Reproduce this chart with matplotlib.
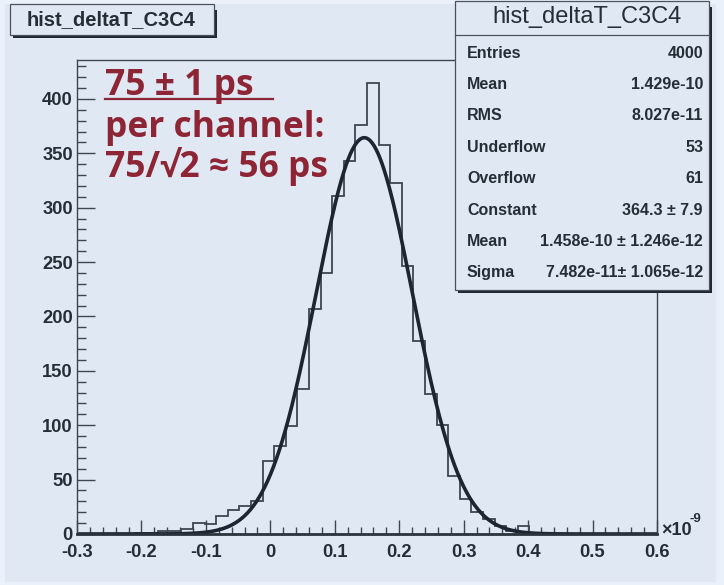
import numpy as np
import matplotlib
matplotlib.use("Agg")
import matplotlib.pyplot as plt
from matplotlib.patches import Rectangle
from matplotlib.lines import Line2D

# Histogram definition (time difference, units of 1e-9 s)
x_min, x_max, n_bins = -0.3, 0.6, 50
counts = [0, 0, 0, 0, 0, 1, 1, 3, 3, 5,
          10, 9, 17, 22, 26, 30, 67, 81, 99, 133,
          207, 240, 311, 343, 376, 415, 358, 323, 246, 177,
          129, 100, 53, 32, 20, 14, 7, 3, 7, 1,
          0, 0, 0, 0, 0, 0, 0, 0, 0, 0]

# Gaussian fit result
fit_constant = 364.3
fit_mean = 0.1458
fit_sigma = 0.07482

hist_name = "hist_deltaT_C3C4"
stat_labels = ["Entries", "Mean", "RMS", "Underflow", "Overflow",
               "Constant", "Mean", "Sigma"]
stat_values = ["4000", "1.429e-10", "8.027e-11", "53", "61",
               "364.3 \u00b1 7.9", "1.458e-10 \u00b1 1.246e-12",
               "7.482e-11\u00b1 1.065e-12"]
note_lines = ["75 \u00b1 1 ps ", "per channel:", "75/\u221a2 \u2248 56 ps"]

x_ticks = [-0.3, -0.2, -0.1, 0, 0.1, 0.2, 0.3, 0.4, 0.5, 0.6]
x_tick_labels = ["-0.3", "-0.2", "-0.1", "0", "0.1", "0.2", "0.3", "0.4", "0.5", "0.6"]
y_ticks = [0, 50, 100, 150, 200, 250, 300, 350, 400]

W, H = 724, 585
BG = "#dfe8f3"
OUTER = "#eaf1fa"
INK = "#252d36"
RED = "#8d2535"
LABEL_FONT = "Liberation Sans"

fig = plt.figure(figsize=(W / 100, H / 100), dpi=100, facecolor=OUTER)


def fx(px):
    return px / W


def fy(py):
    return 1 - py / H


# canvas panel
fig.patches.append(Rectangle((fx(5), fy(582)), fx(716) - fx(5), fy(4) - fy(582),
                             transform=fig.transFigure, facecolor=BG,
                             edgecolor="none", zorder=-5))

ax_l, ax_r, ax_t, ax_b = 77, 657, 60, 534
ax = fig.add_axes([fx(ax_l), fy(ax_b), fx(ax_r) - fx(ax_l), fy(ax_t) - fy(ax_b)])
ax.set_zorder(1)
ax.set_facecolor(BG)

edges = np.linspace(x_min, x_max, n_bins + 1)
ax.stairs(counts, edges, color="#3d4651", linewidth=1.3, baseline=None)

xf = np.linspace(x_min, x_max, 600)
yf = fit_constant * np.exp(-0.5 * ((xf - fit_mean) / fit_sigma) ** 2)
ax.plot(xf, yf, color="#1b2632", linewidth=2.6, solid_capstyle="round")

ax.set_xlim(x_min, x_max)
ax.set_ylim(0, 1.05 * max(counts))

ax.set_xticks(x_ticks)
ax.set_xticklabels(x_tick_labels)
ax.set_xticks(np.arange(x_min, x_max + 1e-9, 0.02), minor=True)
ax.set_yticks(y_ticks)
ax.set_yticks(np.arange(0, 440, 10), minor=True)

ax.tick_params(axis="x", which="major", direction="in", length=10, width=1.0,
               color="#3d4651", pad=7.5, labelsize=13.2, labelcolor=INK)
ax.tick_params(axis="x", which="minor", direction="in", length=5, width=1.0,
               color="#3d4651")
ax.tick_params(axis="y", which="major", direction="in", length=13, width=1.0,
               color="#3d4651", pad=3, labelsize=13.2, labelcolor=INK)
ax.tick_params(axis="y", which="minor", direction="in", length=6.5, width=1.0,
               color="#3d4651")
ax.tick_params(top=False, right=False, which="both")
for lab in ax.get_xticklabels() + ax.get_yticklabels():
    lab.set_fontfamily(LABEL_FONT)
    lab.set_fontweight("bold")

for side in ["top", "right", "left"]:
    ax.spines[side].set_color("#3d4651")
    ax.spines[side].set_linewidth(1.0)
ax.spines["bottom"].set_color("#2a323c")
ax.spines["bottom"].set_linewidth(2.0)

# x10^-9 exponent label
fig.text(fx(661), fy(535), "\u00d710", fontsize=13, fontweight="bold",
         family=LABEL_FONT, color=INK, ha="left", va="baseline", zorder=20)
fig.text(fx(689), fy(522), "-9", fontsize=9.5, fontweight="bold",
         family=LABEL_FONT, color=INK, ha="left", va="baseline", zorder=20)


def shadow_box(x0, y0, x1, y1, z=5):
    # box with a dark drop shadow along bottom and right edges
    fig.patches.append(Rectangle((fx(x0 + 3), fy(y1 + 3)), fx(x1) - fx(x0),
                                 fy(y0 + 3) - fy(y1), transform=fig.transFigure,
                                 facecolor="#1f2730", edgecolor="none", zorder=z))
    fig.patches.append(Rectangle((fx(x0), fy(y1)), fx(x1) - fx(x0),
                                 fy(y0) - fy(y1), transform=fig.transFigure,
                                 facecolor=BG, edgecolor="#4a535d",
                                 linewidth=0.9, zorder=z + 0.1))


# title box
shadow_box(10, 4, 214, 35)
fig.text(fx(111), fy(20), hist_name, fontsize=14.5, fontweight="bold",
         family=LABEL_FONT, color=INK, ha="center", va="center", zorder=10)

# statistics box
sb_l, sb_r, sb_t, sb_b = 455, 709, 1, 290
shadow_box(sb_l, sb_t, sb_r, sb_b)
fig.lines.append(Line2D([fx(sb_l), fx(sb_r)], [fy(35), fy(35)],
                        transform=fig.transFigure, color="#4a535d",
                        linewidth=0.9, zorder=11))
fig.text(fx(587), fy(17), hist_name, fontsize=17, fontweight="normal",
         family=LABEL_FONT, color=INK, ha="center", va="center", zorder=10)
row_y0, row_dy = 53, 31.4
for i, (lab, val) in enumerate(zip(stat_labels, stat_values)):
    yy = row_y0 + i * row_dy
    fig.text(fx(467), fy(yy), lab, fontsize=11.5, fontweight="bold",
             family=LABEL_FONT, color=INK, ha="left", va="center", zorder=10)
    fig.text(fx(703), fy(yy), val, fontsize=11.5, fontweight="bold",
             family=LABEL_FONT, color=INK, ha="right", va="center", zorder=10)

# resolution annotation
note_font = ["Open Sans", "DejaVu Sans"]
baselines = [95, 137, 177]
for txt, yb in zip(note_lines, baselines):
    fig.text(fx(105), fy(yb), txt, fontsize=25.5, fontweight="bold",
             family=note_font, color=RED, ha="left", va="baseline", zorder=10)
fig.lines.append(Line2D([fx(105), fx(273)], [fy(98.5), fy(98.5)],
                        transform=fig.transFigure, color=RED, linewidth=1.6,
                        zorder=10))

fig.savefig("out.png", dpi=100, facecolor=fig.get_facecolor())
